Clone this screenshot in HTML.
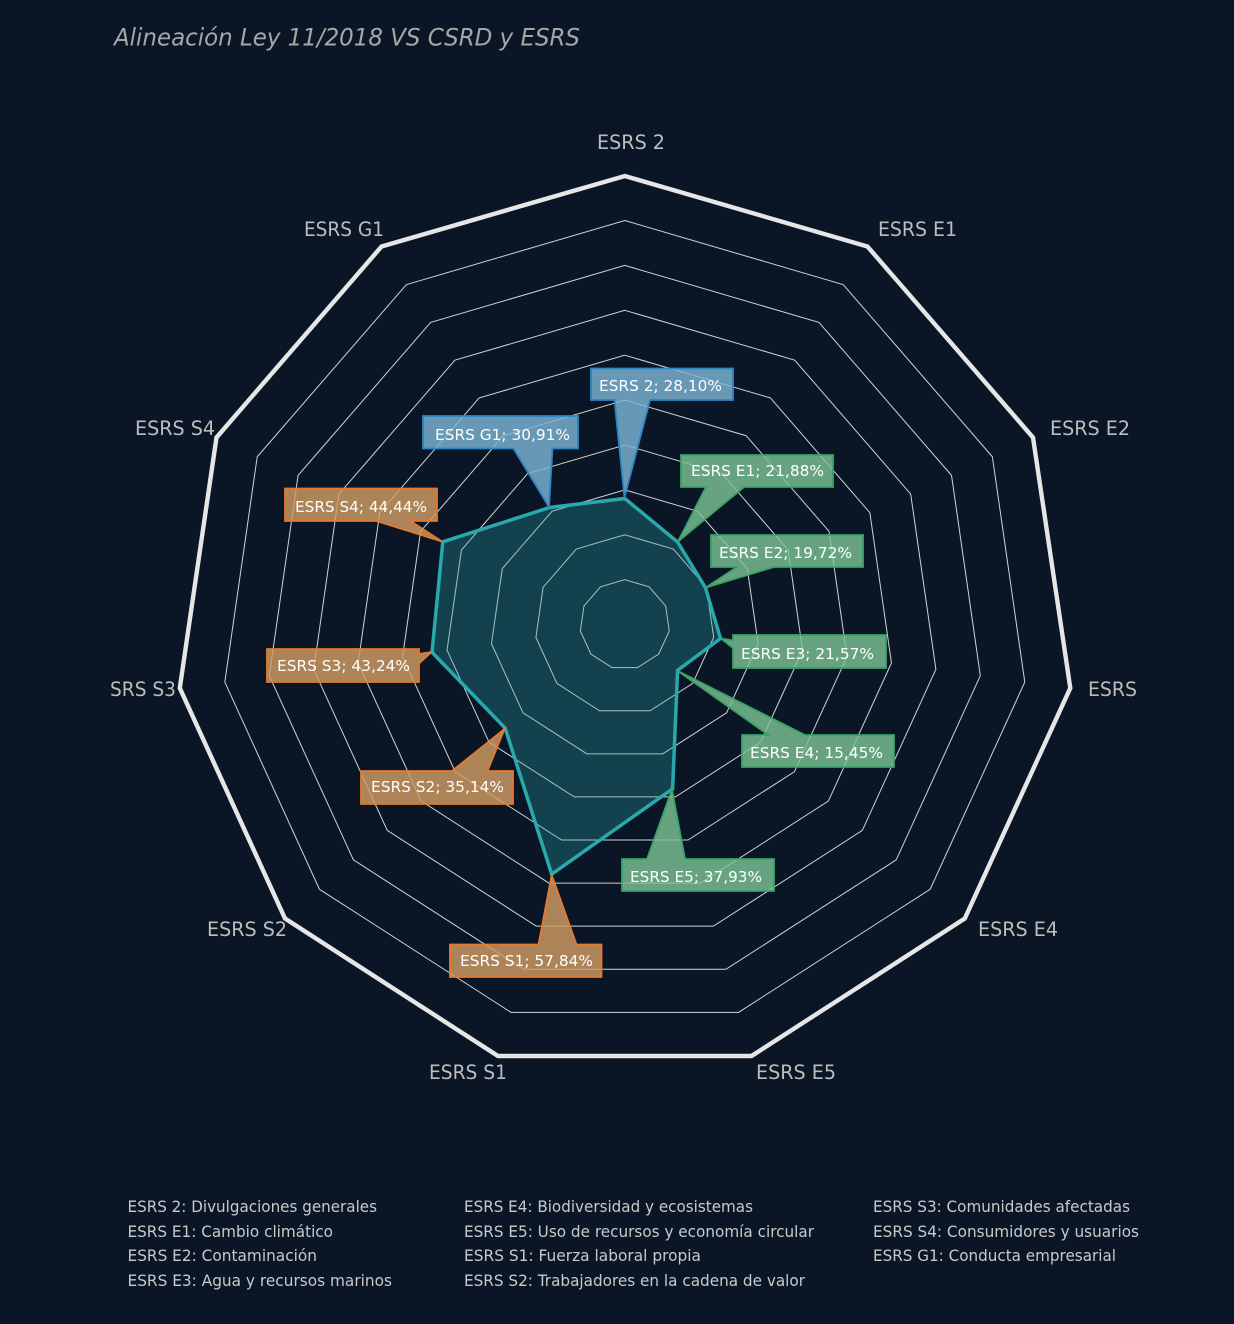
<!DOCTYPE html>
<html lang="es">
<head>
<meta charset="utf-8">
<title>Alineación Ley 11/2018 VS CSRD y ESRS</title>
<style>
html,body{margin:0;padding:0;width:1234px;height:1324px;overflow:hidden;background:#0a1626}
svg{display:block}
text{font-family:"DejaVu Sans","Liberation Sans",sans-serif}
.ring{fill:none;stroke:#d2d2d2;stroke-width:1;vector-effect:non-scaling-stroke}
.axis{font-size:19.5px;fill:#bdbdbd}
.leg{font-size:16px;fill:#c9c9c9}
.lab{font-size:15.5px;fill:#fff}
.b{fill:rgba(124,181,213,.82);stroke:#2e86c1;stroke-width:1.8}
.g{fill:rgba(124,194,149,.82);stroke:#3ba268;stroke-width:1.8}
.o{fill:rgba(209,156,100,.82);stroke:#e4792f;stroke-width:1.8}
</style>
</head>
<body>
<svg width="1234" height="1324" viewBox="0 0 1234 1324" xmlns="http://www.w3.org/2000/svg">
<rect width="1234" height="1324" fill="#0a1626"/>
<text x="114" y="45.5" font-size="24" font-style="italic" fill="#a6a6a6" textLength="466" lengthAdjust="spacingAndGlyphs">Alineación Ley 11/2018 VS CSRD y ESRS</text>

<g transform="translate(624.8,624.6)">
<polygon class="ring" transform="scale(44.9)" points="0,-1 .5406,-.8413 .9096,-.4154 .9898,.1423 .7557,.6549 .2817,.9595 -.2817,.9595 -.7557,.6549 -.9898,.1423 -.9096,-.4154 -.5406,-.8413"/>
<polygon class="ring" transform="scale(89.8)" points="0,-1 .5406,-.8413 .9096,-.4154 .9898,.1423 .7557,.6549 .2817,.9595 -.2817,.9595 -.7557,.6549 -.9898,.1423 -.9096,-.4154 -.5406,-.8413"/>
<polygon class="ring" transform="scale(134.7)" points="0,-1 .5406,-.8413 .9096,-.4154 .9898,.1423 .7557,.6549 .2817,.9595 -.2817,.9595 -.7557,.6549 -.9898,.1423 -.9096,-.4154 -.5406,-.8413"/>
<polygon class="ring" transform="scale(179.6)" points="0,-1 .5406,-.8413 .9096,-.4154 .9898,.1423 .7557,.6549 .2817,.9595 -.2817,.9595 -.7557,.6549 -.9898,.1423 -.9096,-.4154 -.5406,-.8413"/>
<polygon class="ring" transform="scale(224.5)" points="0,-1 .5406,-.8413 .9096,-.4154 .9898,.1423 .7557,.6549 .2817,.9595 -.2817,.9595 -.7557,.6549 -.9898,.1423 -.9096,-.4154 -.5406,-.8413"/>
<polygon class="ring" transform="scale(269.4)" points="0,-1 .5406,-.8413 .9096,-.4154 .9898,.1423 .7557,.6549 .2817,.9595 -.2817,.9595 -.7557,.6549 -.9898,.1423 -.9096,-.4154 -.5406,-.8413"/>
<polygon class="ring" transform="scale(314.3)" points="0,-1 .5406,-.8413 .9096,-.4154 .9898,.1423 .7557,.6549 .2817,.9595 -.2817,.9595 -.7557,.6549 -.9898,.1423 -.9096,-.4154 -.5406,-.8413"/>
<polygon class="ring" transform="scale(359.2)" points="0,-1 .5406,-.8413 .9096,-.4154 .9898,.1423 .7557,.6549 .2817,.9595 -.2817,.9595 -.7557,.6549 -.9898,.1423 -.9096,-.4154 -.5406,-.8413"/>
<polygon class="ring" transform="scale(404.1)" points="0,-1 .5406,-.8413 .9096,-.4154 .9898,.1423 .7557,.6549 .2817,.9595 -.2817,.9595 -.7557,.6549 -.9898,.1423 -.9096,-.4154 -.5406,-.8413"/>
</g>

<polygon points="624.8,176 867.5,246.5 1033,437.5 1070.3,688 964.8,918.5 751.5,1056 498,1056 285,918.5 179.8,688 216.5,437.5 381.5,246.5" fill="none" stroke="#e6e6e6" stroke-width="4.4"/>

<polygon points="624.8,498.5 677.6,542 705.5,587.8 720.5,638.5 677.6,670.3 672.6,788.8 551.7,874.2 505.2,728.2 432,652.2 442.8,541.8 549.7,507.5" fill="rgba(42,169,173,.3)" stroke="#2aa9ad" stroke-width="3.5" stroke-linejoin="miter"/>

<path class="b" d="M591,368.5H733V400H650L624.5,497.5L614.5,400H591Z"/>
<path class="b" d="M423,416H578V448.5H552.5L549,507L513.5,448.5H423Z"/>
<path class="g" d="M681,455H833V487H744L678,541.5L706,487H681Z"/>
<path class="g" d="M711,535H863V567H774L706,587.5L737,567H711Z"/>
<path class="g" d="M733,635H886V668H733V648L721,638.5L733,640.5Z"/>
<path class="g" d="M742,735H768.5L678,671L805,735H894V767H742Z"/>
<path class="g" d="M622,859H647L672,789.5L685,859H774V891H622Z"/>
<path class="o" d="M450,944.5H538.5L551.7,875L576.5,944.5H601.5V977H450Z"/>
<path class="o" d="M361,771H452L504.5,729L487.5,771H513V804H361Z"/>
<path class="o" d="M267,649H419V654L431.5,652L419,663.5V682H267Z"/>
<path class="o" d="M285,488.5H437V521H410.5L442,541.5L376.5,521H285Z"/>

<text class="lab" x="599" y="391" textLength="123" lengthAdjust="spacingAndGlyphs">ESRS 2; 28,10%</text>
<text class="lab" x="435" y="440" textLength="135" lengthAdjust="spacingAndGlyphs">ESRS G1; 30,91%</text>
<text class="lab" x="691" y="476" textLength="133" lengthAdjust="spacingAndGlyphs">ESRS E1; 21,88%</text>
<text class="lab" x="719" y="558" textLength="133" lengthAdjust="spacingAndGlyphs">ESRS E2; 19,72%</text>
<text class="lab" x="741" y="659" textLength="133" lengthAdjust="spacingAndGlyphs">ESRS E3; 21,57%</text>
<text class="lab" x="750" y="758" textLength="133" lengthAdjust="spacingAndGlyphs">ESRS E4; 15,45%</text>
<text class="lab" x="630" y="882" textLength="132" lengthAdjust="spacingAndGlyphs">ESRS E5; 37,93%</text>
<text class="lab" x="460" y="966" textLength="133" lengthAdjust="spacingAndGlyphs">ESRS S1; 57,84%</text>
<text class="lab" x="371" y="792" textLength="133" lengthAdjust="spacingAndGlyphs">ESRS S2; 35,14%</text>
<text class="lab" x="277" y="671" textLength="133" lengthAdjust="spacingAndGlyphs">ESRS S3; 43,24%</text>
<text class="lab" x="295" y="512" textLength="132" lengthAdjust="spacingAndGlyphs">ESRS S4; 44,44%</text>

<text class="axis" x="597" y="149" textLength="68" lengthAdjust="spacingAndGlyphs">ESRS 2</text>
<text class="axis" x="878" y="236" textLength="79" lengthAdjust="spacingAndGlyphs">ESRS E1</text>
<text class="axis" x="1050" y="435" textLength="80" lengthAdjust="spacingAndGlyphs">ESRS E2</text>
<text class="axis" x="1088" y="696" textLength="49" lengthAdjust="spacingAndGlyphs">ESRS</text>
<text class="axis" x="978" y="936" textLength="80" lengthAdjust="spacingAndGlyphs">ESRS E4</text>
<text class="axis" x="756" y="1079" textLength="80" lengthAdjust="spacingAndGlyphs">ESRS E5</text>
<text class="axis" x="429" y="1079" textLength="78" lengthAdjust="spacingAndGlyphs">ESRS S1</text>
<text class="axis" x="207" y="936" textLength="80" lengthAdjust="spacingAndGlyphs">ESRS S2</text>
<text class="axis" x="110" y="696" textLength="66" lengthAdjust="spacingAndGlyphs">SRS S3</text>
<text class="axis" x="135" y="435" textLength="80" lengthAdjust="spacingAndGlyphs">ESRS S4</text>
<text class="axis" x="304" y="236" textLength="80" lengthAdjust="spacingAndGlyphs">ESRS G1</text>

<text class="leg" x="127.5" y="1212" textLength="249.5" lengthAdjust="spacingAndGlyphs">ESRS 2: Divulgaciones generales</text>
<text class="leg" x="127.5" y="1237" textLength="205.5" lengthAdjust="spacingAndGlyphs">ESRS E1: Cambio climático</text>
<text class="leg" x="127.5" y="1261" textLength="189.5" lengthAdjust="spacingAndGlyphs">ESRS E2: Contaminación</text>
<text class="leg" x="127.5" y="1286" textLength="264.5" lengthAdjust="spacingAndGlyphs">ESRS E3: Agua y recursos marinos</text>
<text class="leg" x="464" y="1212" textLength="289" lengthAdjust="spacingAndGlyphs">ESRS E4: Biodiversidad y ecosistemas</text>
<text class="leg" x="464" y="1237" textLength="350" lengthAdjust="spacingAndGlyphs">ESRS E5: Uso de recursos y economía circular</text>
<text class="leg" x="464" y="1261" textLength="237" lengthAdjust="spacingAndGlyphs">ESRS S1: Fuerza laboral propia</text>
<text class="leg" x="464" y="1286" textLength="341" lengthAdjust="spacingAndGlyphs">ESRS S2: Trabajadores en la cadena de valor</text>
<text class="leg" x="873" y="1212" textLength="257" lengthAdjust="spacingAndGlyphs">ESRS S3: Comunidades afectadas</text>
<text class="leg" x="873" y="1237" textLength="266" lengthAdjust="spacingAndGlyphs">ESRS S4: Consumidores y usuarios</text>
<text class="leg" x="873" y="1261" textLength="243" lengthAdjust="spacingAndGlyphs">ESRS G1: Conducta empresarial</text>
</svg>
</body>
</html>
